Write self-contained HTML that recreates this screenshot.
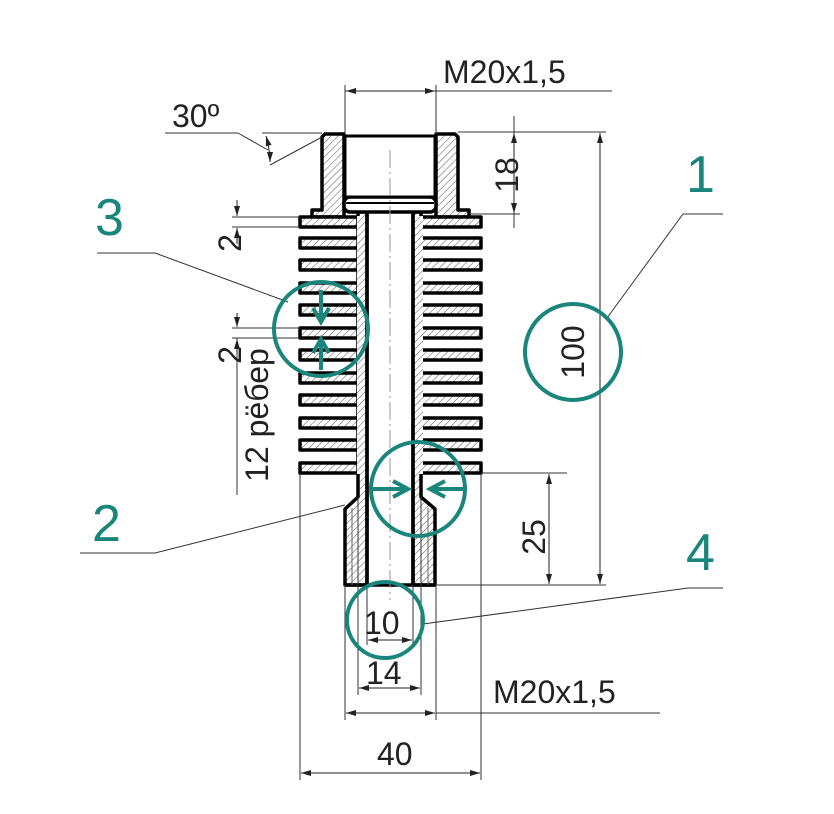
<!DOCTYPE html>
<html><head><meta charset="utf-8"><style>
html,body{margin:0;padding:0;background:#fff}
svg{display:block}
text{font-family:"Liberation Sans",sans-serif;fill:#222}
</style></head><body>
<svg width="834" height="814" viewBox="0 0 834 814" xmlns="http://www.w3.org/2000/svg">
<defs>
<pattern id="h" patternUnits="userSpaceOnUse" width="5" height="5" patternTransform="rotate(45)">
<rect x="0" y="0" width="5" height="5" fill="#fff"/>
<line x1="0" y1="0" x2="0" y2="5" stroke="#555" stroke-width="1"/>
</pattern>
<marker id="a" viewBox="0 0 10 6" refX="10" refY="3" markerWidth="10" markerHeight="6" orient="auto-start-reverse" markerUnits="userSpaceOnUse"><path d="M0,0L10,3L0,6z" fill="#222"/></marker>
</defs>

<!-- head walls -->
<path d="M325,134 L344,134 L344,217 L312,217 L312,210 L322,210 L322,137 Z" fill="url(#h)" stroke="#000" stroke-width="3.5" stroke-linejoin="round"/>
<path d="M455,134 L436,134 L436,217 L469,217 L469,210 L458,210 L458,137 Z" fill="url(#h)" stroke="#000" stroke-width="3.5" stroke-linejoin="round"/>
<!-- tube walls -->
<path d="M358,212 L367,212 L367,585 L345,585 L345,509 L358,497 Z" fill="url(#h)" stroke="#000" stroke-width="3.5" stroke-linejoin="round"/>
<path d="M421,212 L413,212 L413,585 L435,585 L435,509 L421,497 Z" fill="url(#h)" stroke="#000" stroke-width="3.5" stroke-linejoin="round"/>
<!-- fins -->
<g fill="url(#h)" stroke="#000" stroke-width="3.5" stroke-linejoin="round">
<rect x="300" y="217" width="58" height="10"/><rect x="421" y="217" width="60" height="10"/>
<rect x="300" y="238" width="58" height="10"/><rect x="421" y="238" width="60" height="10"/>
<rect x="300" y="260" width="58" height="10"/><rect x="421" y="260" width="60" height="10"/>
<rect x="300" y="283" width="58" height="10"/><rect x="421" y="283" width="60" height="10"/>
<rect x="300" y="305" width="58" height="10"/><rect x="421" y="305" width="60" height="10"/>
<rect x="300" y="328" width="58" height="10"/><rect x="421" y="328" width="60" height="10"/>
<rect x="300" y="350" width="58" height="10"/><rect x="421" y="350" width="60" height="10"/>
<rect x="300" y="373" width="58" height="10"/><rect x="421" y="373" width="60" height="10"/>
<rect x="300" y="395" width="58" height="10"/><rect x="421" y="395" width="60" height="10"/>
<rect x="300" y="418" width="58" height="10"/><rect x="421" y="418" width="60" height="10"/>
<rect x="300" y="440" width="58" height="10"/><rect x="421" y="440" width="60" height="10"/>
<rect x="300" y="463" width="58" height="10"/><rect x="421" y="463" width="60" height="10"/>
</g>
<!-- cover fin/wall joins -->
<rect x="357" y="216" width="8" height="258" fill="url(#h)"/>
<rect x="415" y="216" width="8" height="258" fill="url(#h)"/>
<g stroke="#000" stroke-width="3.5">
<line x1="367" y1="212" x2="367" y2="585"/><line x1="413" y1="212" x2="413" y2="585"/>
<line x1="345" y1="585" x2="435" y2="585"/>
</g>
<rect x="344" y="197" width="92" height="15" rx="6" fill="#fff" stroke="#000" stroke-width="3.5"/>
<line x1="346" y1="203" x2="434" y2="203" stroke="#000" stroke-width="2"/>
<rect x="345" y="136" width="90" height="61" fill="#fff" stroke="#000" stroke-width="3"/>
<g stroke="#666" stroke-width="1">
<line x1="352" y1="508" x2="352" y2="585"/><line x1="428" y1="508" x2="428" y2="585"/>
</g>
<line x1="390" y1="150" x2="390" y2="600" stroke="#999" stroke-width="1" stroke-dasharray="18,4,2,4"/>

<g stroke="#333" stroke-width="1" fill="none">
<line x1="345" y1="85" x2="345" y2="134"/><line x1="436" y1="85" x2="436" y2="134"/>
<line x1="345" y1="91" x2="612" y2="91"/>
<line x1="165" y1="133" x2="238" y2="133"/><line x1="238" y1="133" x2="268" y2="150"/>
<line x1="262" y1="133" x2="322" y2="133"/><line x1="270" y1="165" x2="322" y2="137"/>
<line x1="458" y1="132" x2="606" y2="132"/><line x1="470" y1="214" x2="520" y2="214"/>
<line x1="514" y1="116" x2="514" y2="228"/>
<line x1="437" y1="585" x2="606" y2="585"/>
<line x1="481" y1="473" x2="567" y2="473"/>
<line x1="232" y1="217" x2="300" y2="217"/><line x1="232" y1="227" x2="300" y2="227"/>
<line x1="232" y1="328" x2="300" y2="328"/><line x1="232" y1="338" x2="300" y2="338"/>
<line x1="237" y1="338" x2="237" y2="495"/>
<line x1="300" y1="473" x2="300" y2="780"/><line x1="481" y1="473" x2="481" y2="780"/>
<line x1="358" y1="497" x2="358" y2="695"/><line x1="421" y1="497" x2="421" y2="695"/>
<line x1="345" y1="585" x2="345" y2="720"/><line x1="436" y1="585" x2="436" y2="720"/>
<line x1="367" y1="585" x2="367" y2="645"/><line x1="413" y1="585" x2="413" y2="645"/>
<line x1="436" y1="713" x2="660" y2="713"/>
<polyline points="723,214 683,214 607,318"/>
<polyline points="97,253 155,253 288,302"/>
<polyline points="80,553 155,553 345,505"/>
<polyline points="723,588 688,588 423,624"/>
</g>
<path d="M266,136 Q270,150 270,162" fill="none" stroke="#222" stroke-width="1" marker-start="url(#a)" marker-end="url(#a)"/>
<g stroke="#222" stroke-width="1" marker-start="url(#a)" marker-end="url(#a)">
<line x1="346" y1="91" x2="435" y2="91"/>
<line x1="514" y1="133" x2="514" y2="213"/>
<line x1="600" y1="133" x2="600" y2="584"/>
<line x1="549" y1="474" x2="549" y2="584"/>
<line x1="301" y1="773" x2="480" y2="773"/>
<line x1="359" y1="688" x2="420" y2="688"/>
<line x1="368" y1="640" x2="412" y2="640"/>
<line x1="346" y1="713" x2="435" y2="713"/>
</g>
<g stroke="#222" stroke-width="1" marker-end="url(#a)">
<line x1="237" y1="200" x2="237" y2="216"/><line x1="237" y1="244" x2="237" y2="228"/>
<line x1="237" y1="313" x2="237" y2="327"/><line x1="237" y1="352" x2="237" y2="339"/>
</g>

<g font-size="32">
<text x="443" y="83">M20x1,5</text>
<text x="172" y="127">30º</text>
<text x="493" y="703">M20x1,5</text>
<text x="377" y="765">40</text>
<text x="366" y="684">14</text>
<text x="364" y="634">10</text>
<text transform="translate(518,175) rotate(-90)" text-anchor="middle">18</text>
<text transform="translate(545,537) rotate(-90)" text-anchor="middle">25</text>
<text transform="translate(584,352) rotate(-90)" text-anchor="middle">100</text>
<text transform="translate(241,243) rotate(-90)" text-anchor="middle">2</text>
<text transform="translate(241,355) rotate(-90)" text-anchor="middle">2</text>
<text transform="translate(268,415) rotate(-90)" text-anchor="middle">12 рёбер</text>
</g>
<g font-size="52">
<text x="686" y="192" style="fill:#1a857a">1</text>
<text x="95" y="235" style="fill:#1a857a">3</text>
<text x="92" y="541" style="fill:#1a857a">2</text>
<text x="686" y="570" style="fill:#1a857a">4</text>
</g>
<g fill="none" stroke="#1a857a" stroke-width="4">
<circle cx="573" cy="352" r="48"/>
<circle cx="321" cy="329" r="47"/>
<circle cx="418" cy="489" r="47"/>
<circle cx="385" cy="620" r="38"/>
<line x1="321" y1="290" x2="321" y2="322"/><polyline points="313,308 321,322 329,308"/>
<line x1="321" y1="370" x2="321" y2="339"/><polyline points="313,353 321,339 329,353"/>
<line x1="372" y1="489" x2="408" y2="489"/><polyline points="393,481 408,489 393,497"/>
<line x1="466" y1="489" x2="430" y2="489"/><polyline points="445,481 430,489 445,497"/>
</g>
</svg>
</body></html>
